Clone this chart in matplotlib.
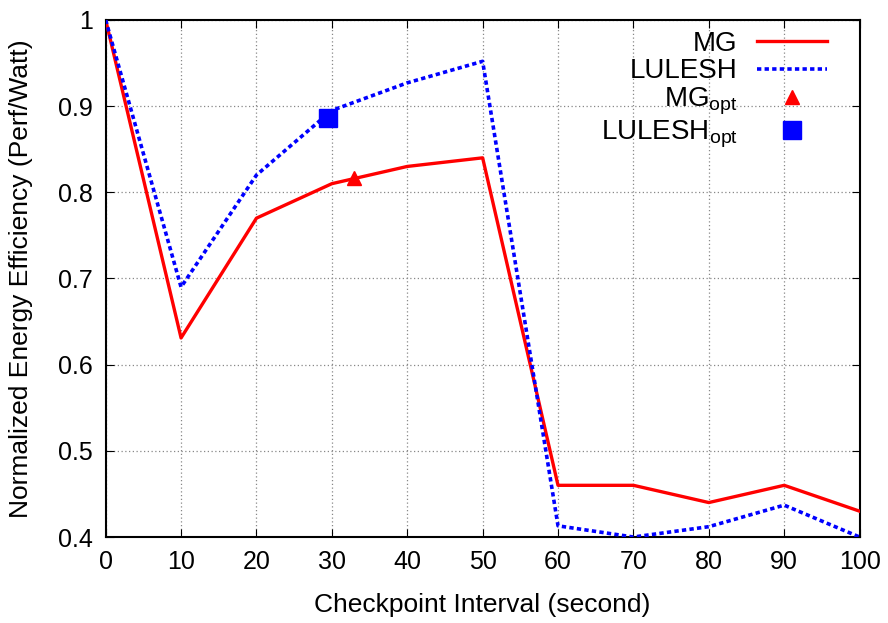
import matplotlib
matplotlib.use('Agg')
import matplotlib.pyplot as plt
import numpy as np

matplotlib.rcParams['font.family'] = ['Liberation Sans', 'DejaVu Sans']

interval = [0, 10, 20, 30, 40, 50, 60, 70, 80, 90, 100]
mg = [1.0, 0.631, 0.77, 0.81, 0.83, 0.84, 0.46, 0.46, 0.44, 0.46, 0.43]
lulesh = [1.0, 0.69, 0.82, 0.895, 0.927, 0.952, 0.413, 0.40, 0.412, 0.437, 0.40]
mg_opt = (33, 0.817)
lulesh_opt = (29.5, 0.886)

fig = plt.figure(figsize=(8.88, 6.23), dpi=100)
ax = fig.add_axes([0.119, 0.138, 0.849, 0.830])

ax.plot(interval, mg, color='#ff0000', lw=2.4, label='MG', zorder=3)
ax.plot(interval, lulesh, color='#0000ff', lw=2.6, ls=(0, (1.2, 0.9)), label='LULESH', zorder=3)
ax.plot(*mg_opt, marker='^', color='#ff0000', ms=10, ls='none', label='MG$_{\\mathregular{opt}}$', zorder=4)
ax.plot(*lulesh_opt, marker='s', color='#0000ff', ms=12.5, ls='none', label='LULESH$_{\\mathregular{opt}}$', zorder=4)

ax.set_xlim(0, 100)
ax.set_ylim(0.4, 1.0)
ax.set_xticks(np.arange(0, 101, 10))
ax.set_yticks([0.4, 0.5, 0.6, 0.7, 0.8, 0.9, 1.0])
ax.set_yticklabels(['0.4', '0.5', '0.6', '0.7', '0.8', '0.9', '1'])
ax.tick_params(direction='in', top=True, right=True, labelsize=18, length=6, pad=9)
ax.grid(True, ls=(0, (1, 2)), color='#888888', lw=0.9)
for s in ax.spines.values():
    s.set_linewidth(1.5)

ax.set_xlabel('Checkpoint Interval (second)', fontsize=19, labelpad=14)
ax.set_ylabel('Normalized Energy Efficiency (Perf/Watt)', fontsize=19, labelpad=18)

leg = ax.legend(loc='upper right', bbox_to_anchor=(0.971, 1.0), markerfirst=False,
                frameon=False, fontsize=20, handlelength=2.5, labelspacing=0.05,
                borderaxespad=0, borderpad=0.4, handletextpad=0.7)
for t in leg.get_texts():
    t.set_ha('right')

fig.savefig('out.png', dpi=100)
